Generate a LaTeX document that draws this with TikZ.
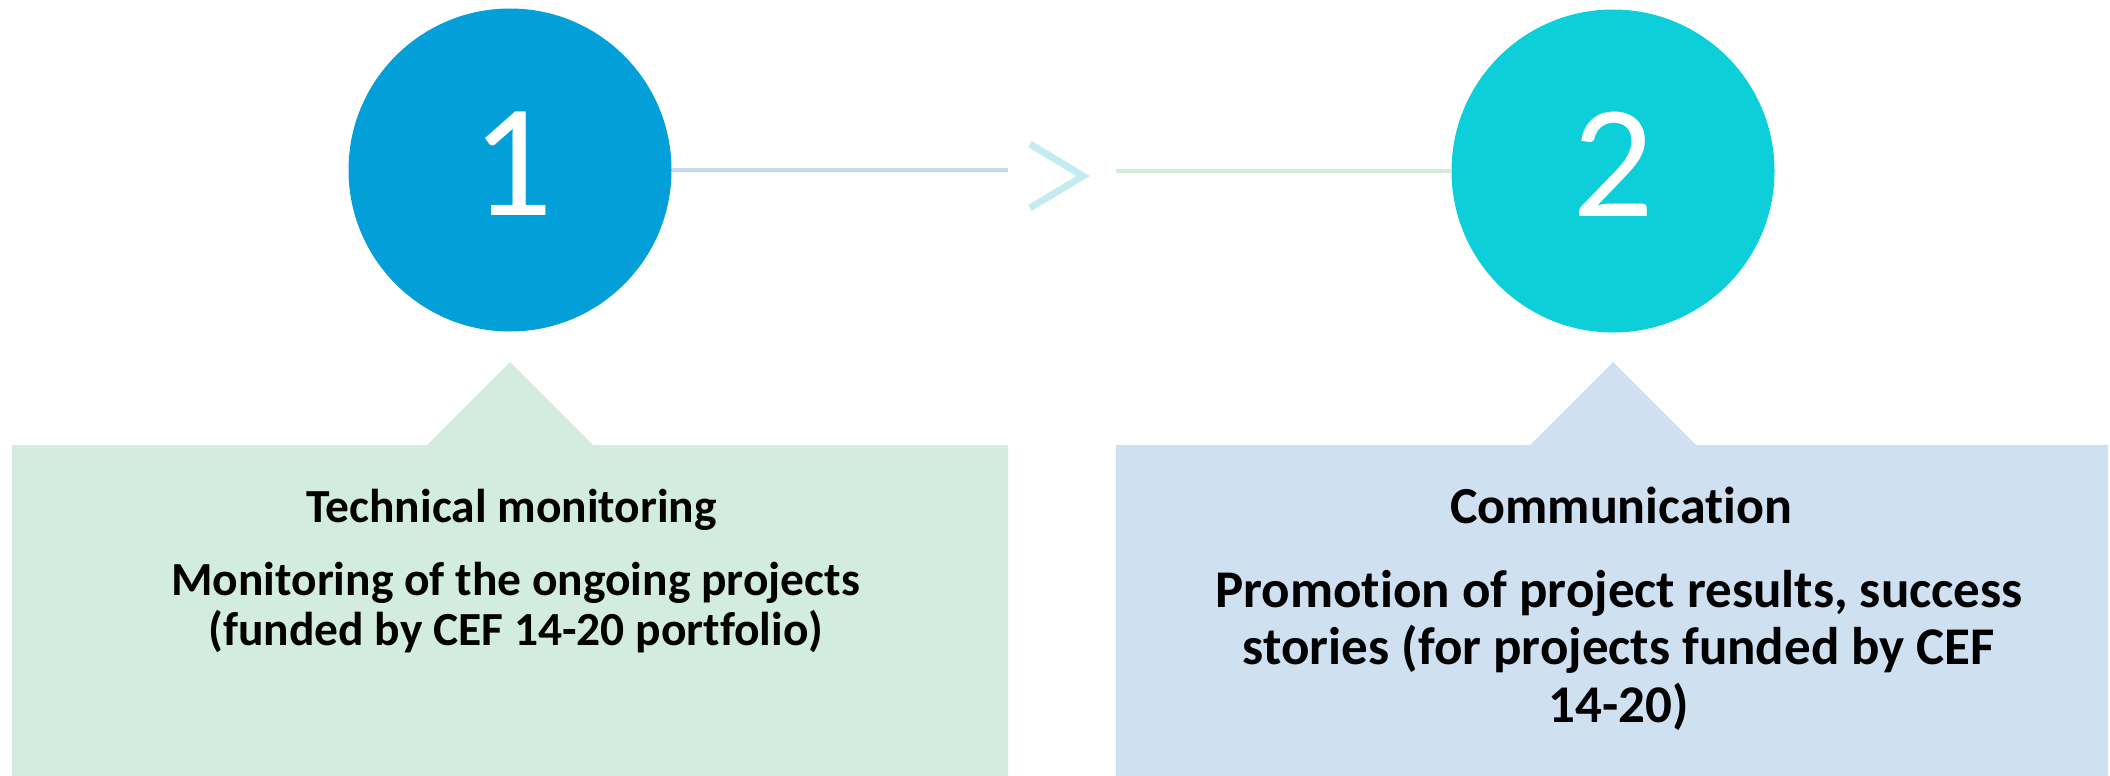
\documentclass[tikz,border=0pt]{standalone}
\usepackage{fontspec}
\setmainfont{Carlito}[Ligatures=NoCommon]
\definecolor{cOne}{RGB}{3,159,217}
\definecolor{cTwo}{RGB}{12,207,217}
\definecolor{boxGreen}{RGB}{210,237,224}
\definecolor{boxBlue}{RGB}{207,224,240}
\definecolor{lineBlue}{RGB}{197,220,240}
\definecolor{lineGreen}{RGB}{211,236,217}
\definecolor{chevCol}{RGB}{196,235,240}
\tikzset{
  stepcircle/.style={circle, minimum size=323pt, inner sep=0pt},
  digit/.style={anchor=base, text=white, inner sep=0pt, font=\fontsize{161}{170}\selectfont},
  textone/.style={anchor=base, align=center, inner sep=0pt, font=\bfseries\fontsize{47.5}{50}\selectfont},
  titletwo/.style={anchor=base, align=center, inner sep=0pt, font=\bfseries\fontsize{52}{57.5}\selectfont},
  texttwo/.style={anchor=base, align=center, inner sep=0pt, font=\bfseries\fontsize{53}{57.5}\selectfont},
}
\begin{document}
\begin{tikzpicture}[x=1pt,y=-1pt]
\useasboundingbox (0,0) rectangle (2110,776);
% callout boxes
\fill[boxGreen] (12,776) -- (12,445) -- (427,445) -- (510,362) -- (593,445) -- (1008,445) -- (1008,776) -- cycle;
\fill[boxBlue] (1116,776) -- (1116,445) -- (1530,445) -- (1613,362) -- (1696,445) -- (2108,445) -- (2108,776) -- cycle;
% circles
\node[stepcircle, fill=cOne] (c1) at (510,170) {};
\node[stepcircle, fill=cTwo] (c2) at (1613,171) {};
\node[digit] (d1) at (512.5,215) {1};
\node[digit] (d2) at (1613.5,216) {2};
% connector pieces
\coordinate (l1end) at (1008,170);
\coordinate (l2start) at (1116,171);
\coordinate (chA) at (1030,144);
\coordinate (chB) at (1083,176);
\coordinate (chC) at (1030,208);
\draw[lineBlue, line width=4pt] (c1.east) -- (l1end);
\draw[chevCol, line width=7pt] (chA) -- (chB) -- (chC);
\draw[lineGreen, line width=4pt] (l2start) -- (c2.west);
% texts (base anchor = baseline of the last line)
\node[textone] (t1) at (511.5,522) {Technical monitoring};
\node[textone] (b1) at (515.5,645) {Monitoring of the ongoing projects\\(funded by CEF 14-20 portfolio)};
\node[titletwo] (t2) at (1621,523) {Communication};
\node[texttwo] (b2) at (1619,722) {Promotion of project results, success\\stories (for projects funded by CEF\\14-20)};
\end{tikzpicture}
\end{document}
